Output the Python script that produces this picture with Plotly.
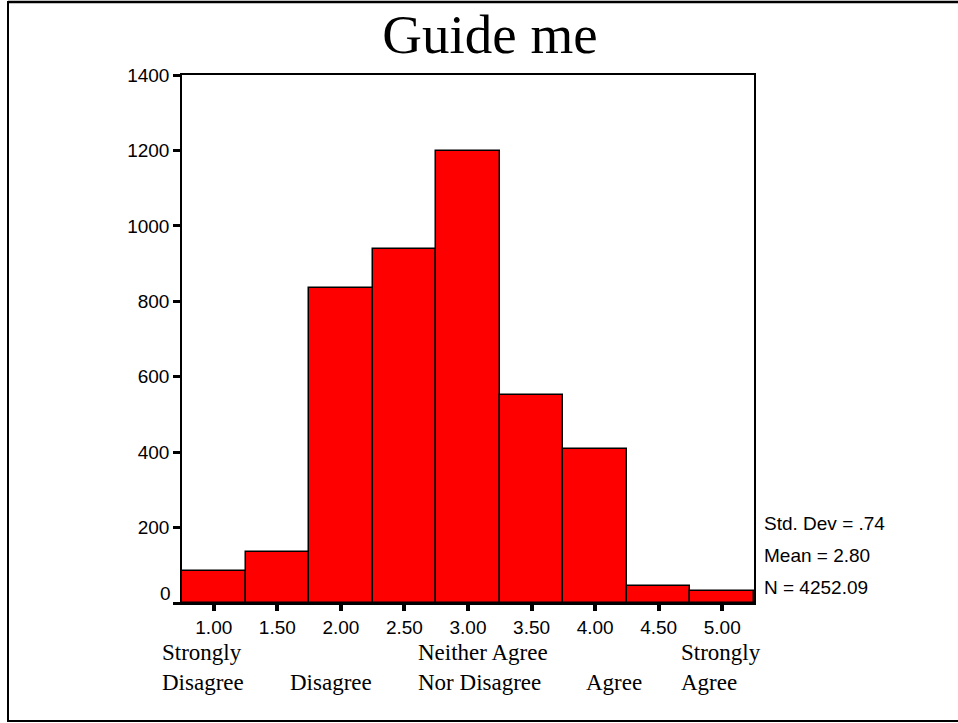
import plotly.graph_objects as go

# ---------------- data ----------------
bin_centers = [1.0, 1.5, 2.0, 2.5, 3.0, 3.5, 4.0, 4.5, 5.0]
tick_labels = ["1.00", "1.50", "2.00", "2.50", "3.00", "3.50", "4.00", "4.50", "5.00"]
counts = [85, 135, 835, 938, 1198, 552, 408, 45, 32]
y_ticks = [0, 200, 400, 600, 800, 1000, 1200, 1400]
scale_values = [1.0, 2.0, 3.0, 4.0, 5.0]
scale_line1 = ["Strongly", "", "Neither Agree", "", "Strongly"]
scale_line2 = ["Disagree", "Disagree", "Nor Disagree", "Agree", "Agree"]
stats_lines = ["Std. Dev = .74", "Mean = 2.80", "N = 4252.09"]
title_text = "Guide me"

# ---------------- style / layout ----------------
W, H = 958, 723
L, R, T, B = 182, 754, 75, 603
SANS = "Arial, Liberation Sans, sans-serif"
SERIF = "Times New Roman, Liberation Serif, serif"
label_shift_px = [-54, -53, -52, -11, -43]   # left edge of scale labels relative to tick


def px_x(px):
    return (px - L) / (R - L)


def px_y(py):
    return (B - py) / (B - T)


fig = go.Figure()
fig.add_trace(go.Bar(
    x=bin_centers, y=counts, width=0.5,
    marker=dict(color="#ff0000", line=dict(color="black", width=1.5)),
    showlegend=False,
))

annotations = []
# raised "0" label like the original
annotations.append(dict(x=0, xref="paper", y=0, yref="y", text="0", showarrow=False,
                        xanchor="right", yanchor="middle", xshift=-9, yshift=10,
                        font=dict(family=SANS, size=19, color="black")))
for v, t1, t2, sh in zip(scale_values, scale_line1, scale_line2, label_shift_px):
    if t1:
        annotations.append(dict(x=v, xref="x", y=px_y(652), yref="paper", text=t1,
                                showarrow=False, xanchor="left", yanchor="middle", xshift=sh,
                                font=dict(family=SERIF, size=23, color="black")))
    annotations.append(dict(x=v, xref="x", y=px_y(682), yref="paper", text=t2,
                            showarrow=False, xanchor="left", yanchor="middle", xshift=sh,
                            font=dict(family=SERIF, size=23, color="black")))
for i, s in enumerate(stats_lines):
    annotations.append(dict(x=px_x(762), xref="paper", y=px_y(523 + 32 * i), yref="paper",
                            text=s, showarrow=False, xanchor="left", yanchor="middle",
                            font=dict(family=SANS, size=19, color="black")))

shapes = [
    dict(type="line", xref="paper", yref="paper", x0=px_x(8), x1=px_x(958),
         y0=px_y(2), y1=px_y(2), line=dict(color="black", width=2.5)),
    dict(type="line", xref="paper", yref="paper", x0=px_x(8), x1=px_x(8),
         y0=px_y(1), y1=px_y(722), line=dict(color="black", width=2)),
    dict(type="line", xref="paper", yref="paper", x0=px_x(8), x1=px_x(958),
         y0=px_y(721), y1=px_y(721), line=dict(color="black", width=2)),
]

fig.update_layout(
    width=W, height=H,
    margin=dict(l=L, r=W - R, t=T, b=H - B, pad=0),
    paper_bgcolor="white", plot_bgcolor="white",
    bargap=0,
    title=dict(text=title_text, x=490 / W, xref="container", xanchor="center",
               y=1 - 34 / H, yref="container", yanchor="middle",
               font=dict(family=SERIF, size=55, color="black")),
    xaxis=dict(range=[0.75, 5.25], tickvals=bin_centers, ticktext=tick_labels,
               ticks="outside", ticklen=6, tickwidth=4, tickcolor="black",
               showline=True, linecolor="black", linewidth=1.5, mirror=True,
               showgrid=False, zeroline=False, fixedrange=True,
               tickfont=dict(family=SANS, size=19, color="black")),
    yaxis=dict(range=[0, 1400], tickvals=y_ticks,
               ticktext=[""] + [str(v) for v in y_ticks[1:]],
               ticks="outside", ticklen=7, tickwidth=3, tickcolor="black",
               showline=True, linecolor="black", linewidth=1.5, mirror=True,
               showgrid=False, zeroline=False, fixedrange=True,
               tickfont=dict(family=SANS, size=19, color="black")),
    annotations=annotations,
    shapes=shapes,
)

fig.write_html(
    "out.html",
    config={"displayModeBar": False},
    post_script="document.body.style.margin='0';document.body.style.overflow='hidden';",
)
